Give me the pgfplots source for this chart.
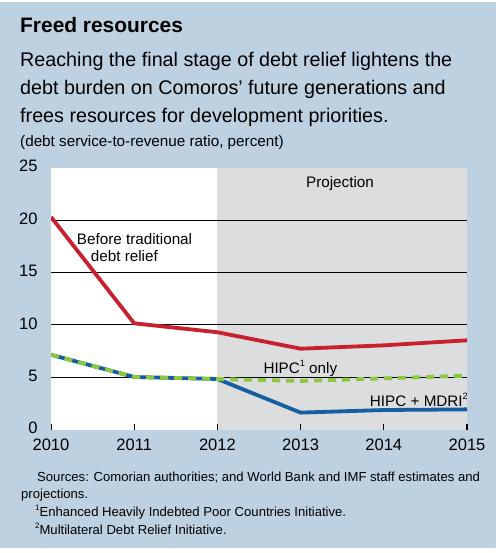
\documentclass[border=0pt]{standalone}
\usepackage{fontspec}
\setmainfont{Liberation Sans}
\usepackage{pgfplots}
\pgfplotsset{compat=1.18}
\definecolor{bgblue}{RGB}{189,209,225}
\definecolor{projgray}{RGB}{220,221,223}
\definecolor{linered}{RGB}{200,32,46}
\definecolor{lineblue}{RGB}{21,94,160}
\definecolor{linegreen}{RGB}{141,198,63}
\pgfplotstableread{
year before hipc mdri
2010 20.30 7.15 7.15
2011 10.15 5.03 5.03
2012 9.30 4.84 4.84
2013 7.73 4.65 1.63
2014 8.05 4.90 1.88
2015 8.53 5.15 1.94
}\debtdata
\newcommand{\supnum}[1]{\raisebox{0.45em}{\scalebox{0.6}{#1}}}
\begin{document}
\begin{tikzpicture}
\begin{scope}[x=1bp,y=-1bp]
\useasboundingbox (0,0) rectangle (500,553);
\fill[white] (0,0) rectangle (500,553);
\fill[bgblue] (0,2) rectangle (496,548);
\node[anchor=base west,inner sep=0] at (20,33) {\fontsize{21}{21}\selectfont\bfseries Freed resources};
\node[anchor=base west,inner sep=0] at (20,66.5) {\fontsize{19.8}{19.8}\selectfont Reaching the final stage of debt relief lightens the};
\node[anchor=base west,inner sep=0] at (20,94.5) {\fontsize{19.8}{19.8}\selectfont debt burden on Comoros’ future generations and};
\node[anchor=base west,inner sep=0] at (20,122.5) {\fontsize{19.8}{19.8}\selectfont frees resources for development priorities.};
\node[anchor=base west,inner sep=0] at (20,147) {\fontsize{15.3}{15.3}\selectfont (debt service-to-revenue ratio, percent)};
\node[anchor=base west,inner sep=0] at (37,481) {\fontsize{13.15}{13.15}\selectfont Sources: Comorian authorities; and World Bank and IMF staff estimates and};
\node[anchor=base west,inner sep=0] at (21,498.3) {\fontsize{13.15}{13.15}\selectfont projections.};
\node[anchor=base west,inner sep=0] at (35,516.5) {\fontsize{13.15}{13.15}\selectfont \supnum{1}Enhanced Heavily Indebted Poor Countries Initiative.};
\node[anchor=base west,inner sep=0] at (35,534) {\fontsize{13.15}{13.15}\selectfont \supnum{2}Multilateral Debt Relief Initiative.};
\end{scope}
\begin{axis}[
  at={(51bp,-429.7bp)}, anchor=south west,
  scale only axis, width=416bp, height=262bp,
  xmin=2010, xmax=2015, ymin=0, ymax=25,
  axis background/.style={fill=white},
  axis line style={draw=none},
  axis on top,
  xtick={2010,2011,2012,2013,2014,2015},
  ytick={0,5,10,15,20,25},
  xtick pos=bottom, tick align=inside,
  major tick length=6bp,
  xtick style={black, line width=0.9bp},
  ytick style={draw=none},
  /pgf/number format/assume math mode=true,
  /pgf/number format/1000 sep={},
  xticklabel style={font=\fontsize{16.6}{16.6}\selectfont, yshift=-6bp},
  yticklabel style={font=\fontsize{16.6}{16.6}\selectfont, xshift=-10bp, yshift=1.5bp},
]
\fill[projgray] (axis cs:2012,0) rectangle (axis cs:2015,25);
\draw[black, line width=0.9bp] (axis cs:2010,5) -- (axis cs:2015,5);
\draw[black, line width=0.9bp] (axis cs:2010,10) -- (axis cs:2015,10);
\draw[black, line width=0.9bp] (axis cs:2010,15) -- (axis cs:2015,15);
\draw[black, line width=0.9bp] (axis cs:2010,20) -- (axis cs:2015,20);
\draw[black, line width=0.9bp] (axis cs:2010.005,0) -- (axis cs:2010.005,0.57);
\draw[black, line width=0.9bp] (axis cs:2011,0) -- (axis cs:2011,0.57);
\draw[black, line width=0.9bp] (axis cs:2012,0) -- (axis cs:2012,0.57);
\draw[black, line width=0.9bp] (axis cs:2013,0) -- (axis cs:2013,0.57);
\draw[black, line width=0.9bp] (axis cs:2014,0) -- (axis cs:2014,0.57);
\draw[black, line width=0.9bp] (axis cs:2014.995,0) -- (axis cs:2014.995,0.57);
\addplot[linered, line width=3.8bp, line join=round] table[x=year,y=before] {\debtdata};
\addplot[lineblue, line width=3.8bp, line join=round] table[x=year,y=mdri] {\debtdata};
\addplot[linegreen, line width=3.8bp, dash pattern=on 8bp off 6bp] table[x=year,y=hipc] {\debtdata};
\end{axis}
\begin{scope}[x=1bp,y=-1bp]
\node[anchor=base west,inner sep=0] at (76.7,244) {\fontsize{15.3}{15.3}\selectfont Before traditional};
\node[anchor=base west,inner sep=0] at (90.7,261.5) {\fontsize{15.3}{15.3}\selectfont debt relief};
\node[anchor=base,inner sep=0] at (340,187.3) {\fontsize{15.3}{15.3}\selectfont Projection};
\node[anchor=base west,inner sep=0] at (263.3,373.5) {\fontsize{15.3}{15.3}\selectfont HIPC\supnum{1} only};
\node[anchor=base east,inner sep=0] at (468,406) {\fontsize{15.3}{15.3}\selectfont HIPC + MDRI\supnum{2}};
\end{scope}
\end{tikzpicture}
\end{document}
